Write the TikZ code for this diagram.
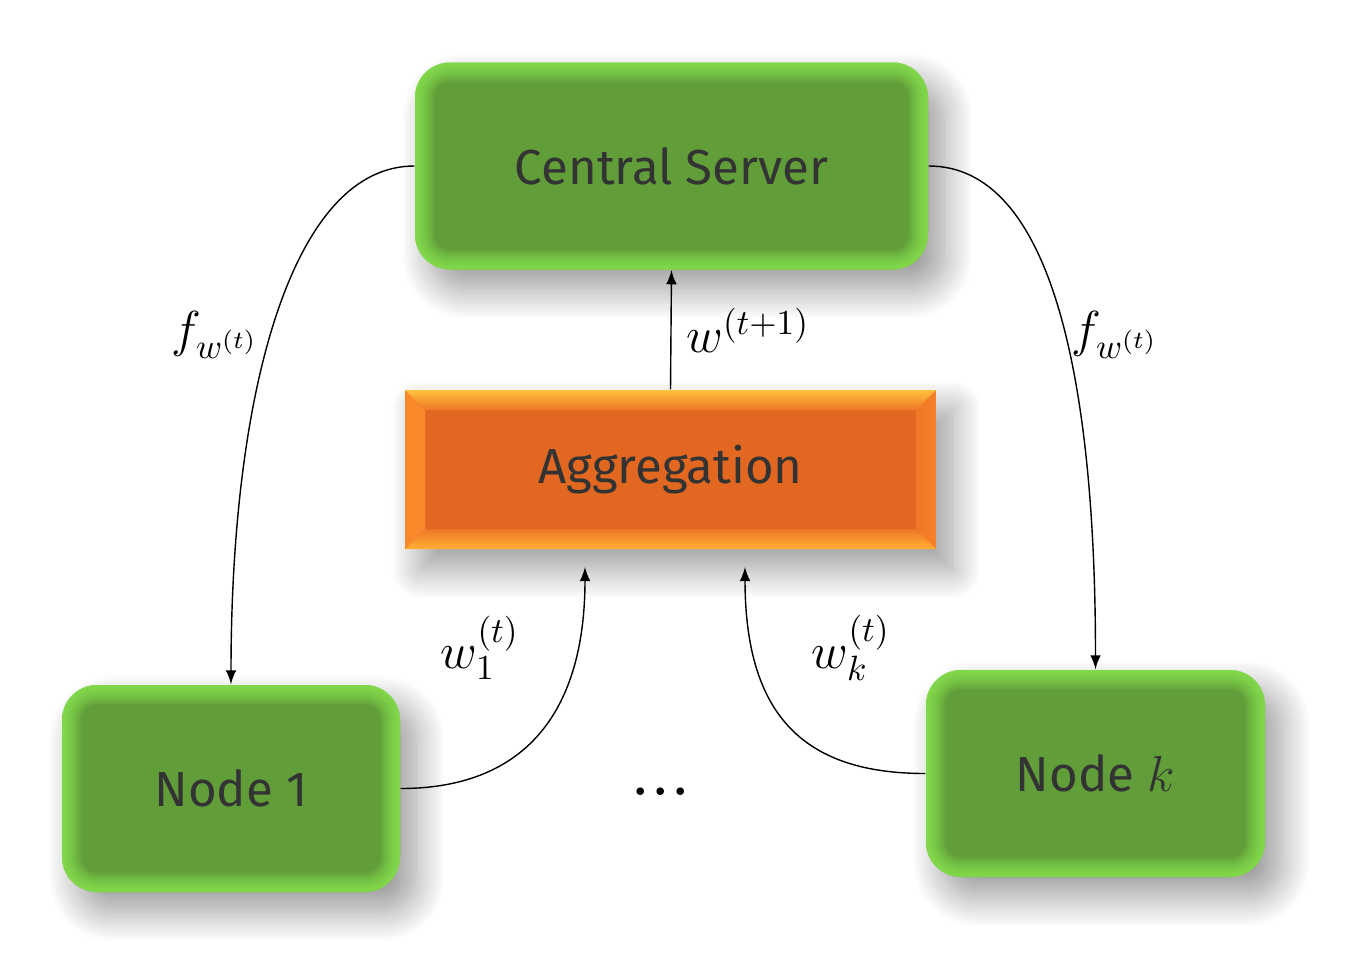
\documentclass[tikz,border=0pt]{standalone}
\usepackage{fontspec}
\usepackage{xcolor}
\usepackage{tikz}
\usetikzlibrary{shadows.blur}
\newfontfamily\boxfont{Fira Sans}
\definecolor{gBase}{HTML}{619E39}
\definecolor{gRim}{HTML}{96FA58}
\definecolor{oBase}{HTML}{E26822}
\definecolor{oTop}{HTML}{FFC23C}
\definecolor{oSide}{HTML}{F7802A}
\definecolor{oBot}{HTML}{FFB034}
\definecolor{cText}{HTML}{333333}

\begin{document}
\begin{tikzpicture}[
  greenbox/.style={
    rectangle, rounded corners=0.35cm, fill=gBase,
    font=\boxfont\fontsize{14}{17}\selectfont, text=cText,
    minimum height=2.07cm,
    blur shadow={shadow xshift=0.16cm, shadow yshift=-0.2cm,
      shadow blur radius=0.3cm, shadow blur steps=24, shadow opacity=40},
    path picture={
      \foreach \w in {1,...,10}
        \draw[gRim, opacity=0.1, line width=\w*1.1pt, rounded corners=0.35cm]
          (path picture bounding box.south west)
          rectangle (path picture bounding box.north east);
    },
  },
  aggbox/.style={
    rectangle, fill=oBase,
    font=\boxfont\fontsize{14}{17}\selectfont, text=cText,
    minimum width=5.31cm, minimum height=1.59cm,
    blur shadow={shadow xshift=0.16cm, shadow yshift=-0.2cm,
      shadow blur radius=0.3cm, shadow blur steps=24, shadow opacity=40},
    path picture={
      \path[left color=oSide!85!oTop, right color=oSide!70!oBase]
        (path picture bounding box.north west)
        -- ([shift={(0.2,-0.2)}]path picture bounding box.north west)
        -- ([shift={(0.2,0.2)}]path picture bounding box.south west)
        -- (path picture bounding box.south west) -- cycle;
      \path[right color=oSide, left color=oSide!60!oBase]
        (path picture bounding box.north east)
        -- ([shift={(-0.2,-0.2)}]path picture bounding box.north east)
        -- ([shift={(-0.2,0.2)}]path picture bounding box.south east)
        -- (path picture bounding box.south east) -- cycle;
      \path[top color=oTop, bottom color=oSide!60!oBase]
        (path picture bounding box.north west)
        -- (path picture bounding box.north east)
        -- ([shift={(-0.2,-0.2)}]path picture bounding box.north east)
        -- ([shift={(0.2,-0.2)}]path picture bounding box.north west) -- cycle;
      \path[bottom color=oBot, top color=oSide!60!oBase]
        (path picture bounding box.south west)
        -- (path picture bounding box.south east)
        -- ([shift={(-0.2,0.2)}]path picture bounding box.south east)
        -- ([shift={(0.2,0.2)}]path picture bounding box.south west) -- cycle;
    },
  },
  mathlabel/.style={font=\fontsize{14}{17}\selectfont},
  link/.style={-latex, thin},
]
\useasboundingbox (0,0) rectangle (13.57,9.6);
%
% ─── BOXES ───
\node[greenbox, minimum width=5.13cm] (server) at (6.715,7.94) {Central Server};
\node[aggbox] (agg) at (6.705,4.905) {Aggregation};
\node[greenbox, minimum width=3.38cm] (node1) at (2.31,1.715) {Node 1};
\node[greenbox, minimum width=3.39cm] (nodek) at (10.955,1.865) {Node $k$};
\node[font=\bfseries\fontsize{15}{17}\selectfont] (dots) at (6.61,1.68) {.\kern1pt.\kern1pt.};
%
% ─── BROADCAST ───
\draw[link] (server.west) .. controls +(-1.2,0) and +(0,3) .. (node1.north);
\draw[link] (server.east) .. controls +(1.2,0) and +(0,3) .. (nodek.north);
\node[mathlabel] (f1) at (2.15,6.25) {$f_{w^{(t)}}$};
\node[mathlabel] (fk) at (11.15,6.25) {$f_{w^{(t)}}$};
%
% ─── UPLOAD ───
\coordinate (in1) at (5.85,3.93);
\coordinate (ink) at (7.45,3.93);
\draw[link] (node1.east) .. controls +(1.2,0) and +(0,-1.5) .. (in1);
\draw[link] (nodek.west) .. controls +(-1.2,0) and +(0,-1.5) .. (ink);
\node[mathlabel] (w1) at (4.8,3.12) {$w_1^{(t)}$};
\node[mathlabel] (wk) at (8.51,3.12) {$w_k^{(t)}$};
%
% ─── UPDATE ───
\draw[link] (agg.north) -- (server.south);
\node[mathlabel] (wnext) at (7.48,6.3) {$w^{(t+1)}$};

\end{tikzpicture}
\end{document}
